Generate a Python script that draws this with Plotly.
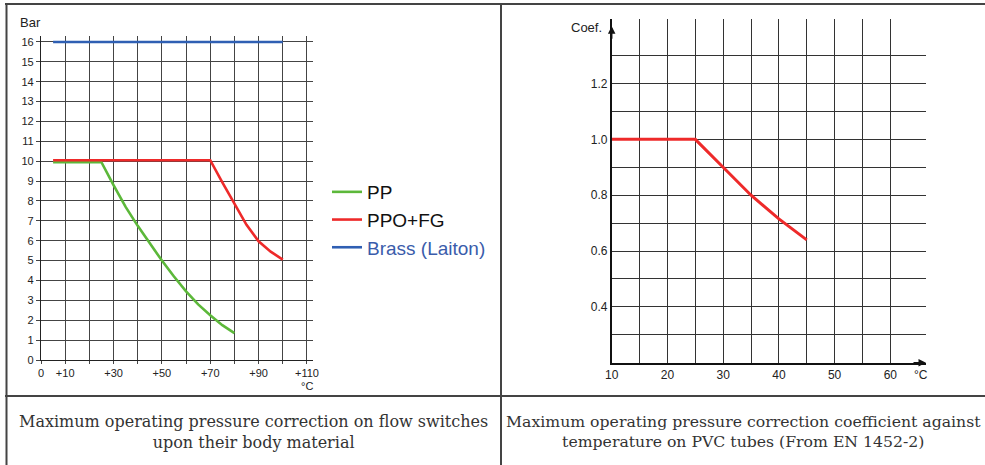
import plotly.graph_objects as go

W, H = 985, 465

# ---------------- data ----------------
pp_temp = [5, 25, 30, 35, 40, 45, 50, 55, 60, 65, 70, 75, 80]
pp_bar = [9.95, 9.95, 8.8, 7.7, 6.75, 5.85, 5.0, 4.2, 3.45, 2.8, 2.25, 1.75, 1.35]

ppo_temp = [5, 70, 75, 80, 85, 90, 95, 100]
ppo_bar = [10.05, 10.05, 8.94, 7.85, 6.8, 5.97, 5.45, 5.05]

brass_temp = [5, 100]
brass_bar = [16, 16]

pvc_temp = [10, 25, 30, 35, 40, 45]
pvc_coef = [1.0, 1.0, 0.9, 0.8, 0.715, 0.64]

left_xticks = [0, 10, 20, 30, 40, 50, 60, 70, 80, 90, 100, 110]
left_xlabels = ["0", "+10", "", "+30", "", "+50", "", "+70", "", "+90", "", "+110"]
left_yticks = list(range(0, 17))

right_xticks = [10, 15, 20, 25, 30, 35, 40, 45, 50, 55, 60]
right_xlabels = ["10", "", "20", "", "30", "", "40", "", "50", "", "60"]
right_yticks = [0.3, 0.4, 0.5, 0.6, 0.7, 0.8, 0.9, 1.0, 1.1, 1.2, 1.3]
right_ylabels = ["", "0.4", "", "0.6", "", "0.8", "", "1.0", "", "1.2", ""]

caption_left = "Maximum operating pressure correction on flow switches<br>upon their body material"
caption_right = ("Maximum operating pressure correction coefficient against<br>"
                 "temperature on PVC tubes (From EN 1452-2)")

GREEN = "#5cb83a"
RED = "#ee2a2a"
BLUE = "#2f5fb3"
SANS = "Liberation Sans, Arial, sans-serif"
SERIF = "DejaVu Serif, serif"


def px_x(p):
    return p / W


def px_y(p):
    return 1 - p / H


fig = go.Figure()

fig.add_trace(go.Scatter(x=pp_temp, y=pp_bar, mode="lines", name="PP",
                         line=dict(color=GREEN, width=2.6), xaxis="x", yaxis="y"))
fig.add_trace(go.Scatter(x=ppo_temp, y=ppo_bar, mode="lines", name="PPO+FG",
                         line=dict(color=RED, width=2.6), xaxis="x", yaxis="y"))
fig.add_trace(go.Scatter(x=brass_temp, y=brass_bar, mode="lines",
                         name="<span style='color:#3a5cab'>Brass (Laiton)</span>",
                         line=dict(color=BLUE, width=2.6), xaxis="x", yaxis="y"))
fig.add_trace(go.Scatter(x=pvc_temp, y=pvc_coef, mode="lines", showlegend=False,
                         line=dict(color=RED, width=3), xaxis="x2", yaxis="y2"))

grid_l = "#444444"
grid_r = "#333333"

fig.update_layout(
    width=W, height=H,
    margin=dict(l=0, r=0, t=0, b=0, autoexpand=False),
    paper_bgcolor="white", plot_bgcolor="white",
    font=dict(family=SANS, color="#222222"),
    xaxis=dict(domain=[px_x(41), px_x(313)], range=[0, 112.5], anchor="y",
               automargin=False,
               tickmode="array", tickvals=left_xticks, ticktext=left_xlabels,
               showgrid=True, gridcolor=grid_l, gridwidth=1,
               showline=True, linecolor="#222", linewidth=1.2,
               ticks="outside", ticklen=3, tickcolor=grid_l,
               tickfont=dict(size=11, color="#222"), zeroline=False),
    yaxis=dict(domain=[px_y(360), px_y(36)], range=[0, 16.3], anchor="x",
               automargin=False,
               tickmode="array", tickvals=left_yticks,
               showgrid=True, gridcolor=grid_l, gridwidth=1,
               showline=True, linecolor="#222", linewidth=1.2,
               ticks="outside", ticklen=4, tickcolor=grid_l,
               tickfont=dict(size=11, color="#222"), zeroline=False),
    xaxis2=dict(domain=[px_x(611.7), px_x(926)], range=[10, 66.4], anchor="y2",
                automargin=False,
                tickmode="array", tickvals=right_xticks, ticktext=right_xlabels,
                showgrid=True, gridcolor=grid_r, gridwidth=1,
                showline=True, linecolor="#111", linewidth=1.5,
                ticks="", tickfont=dict(size=12, color="#222"), zeroline=False),
    yaxis2=dict(domain=[px_y(362.7), px_y(19.3)], range=[0.2, 1.43], anchor="x2",
                automargin=False,
                tickmode="array", tickvals=right_yticks, ticktext=right_ylabels,
                showgrid=True, gridcolor=grid_r, gridwidth=1,
                showline=True, linecolor="#111", linewidth=1.5,
                ticks="", tickfont=dict(size=12, color="#222"), zeroline=False),
    legend=dict(x=px_x(327), y=px_y(173), xanchor="left", yanchor="top",
                font=dict(family=SANS, size=19, color="#111"),
                bgcolor="rgba(0,0,0,0)", itemwidth=30, tracegroupgap=0),
    showlegend=True,
)

ann = []
ann.append(dict(text="Bar", x=px_x(18), y=px_y(23), xref="paper", yref="paper",
                xanchor="left", yanchor="middle", showarrow=False,
                font=dict(size=13, color="#222")))
ann.append(dict(text="°C", x=px_x(307), y=px_y(378), xref="paper", yref="paper",
                xanchor="center", yanchor="top", showarrow=False,
                font=dict(size=11, color="#222")))
ann.append(dict(text="Coef.", x=px_x(604), y=px_y(28), xref="paper", yref="paper",
                xanchor="right", yanchor="middle", showarrow=False,
                font=dict(size=13, color="#222")))
ann.append(dict(text="°C", x=px_x(921), y=px_y(375), xref="paper", yref="paper",
                xanchor="center", yanchor="middle", showarrow=False,
                font=dict(size=12, color="#222")))
# axis arrows on right chart
ann.append(dict(x=10, y=1.405, xref="x2", yref="y2", ax=0, ay=14,
                showarrow=True, arrowhead=2, arrowsize=1, arrowwidth=1.5, arrowcolor="#111", text=""))
ann.append(dict(x=66.4, y=0.2, xref="x2", yref="y2", ax=-14, ay=0,
                showarrow=True, arrowhead=2, arrowsize=1, arrowwidth=1.5, arrowcolor="#111", text=""))
# captions
ann.append(dict(text=caption_left, x=px_x(254), y=px_y(431.5), xref="paper", yref="paper",
                xanchor="center", yanchor="middle", showarrow=False, align="center",
                font=dict(family=SERIF, size=16, color="#333")))
ann.append(dict(text=caption_right, x=px_x(743), y=px_y(431.5), xref="paper", yref="paper",
                xanchor="center", yanchor="middle", showarrow=False, align="center",
                font=dict(family=SERIF, size=15.7, color="#333")))
fig.update_layout(annotations=ann)

# table borders
bc = "#444444"
shapes = [
    dict(type="line", xref="paper", yref="paper", x0=px_x(5), x1=1, y0=px_y(4), y1=px_y(4),
         line=dict(color=bc, width=2)),
    dict(type="line", xref="paper", yref="paper", x0=px_x(6.5), x1=px_x(6.5), y0=px_y(4), y1=0,
         line=dict(color=bc, width=2)),
    dict(type="line", xref="paper", yref="paper", x0=px_x(501), x1=px_x(501), y0=px_y(4), y1=0,
         line=dict(color=bc, width=2)),
    dict(type="line", xref="paper", yref="paper", x0=px_x(5), x1=1, y0=px_y(396), y1=px_y(396),
         line=dict(color=bc, width=2)),
]
fig.update_layout(shapes=shapes)

fig.write_html("out.html", config={"displayModeBar": False},
               post_script="document.body.style.margin='0';document.body.style.overflow='hidden';")
